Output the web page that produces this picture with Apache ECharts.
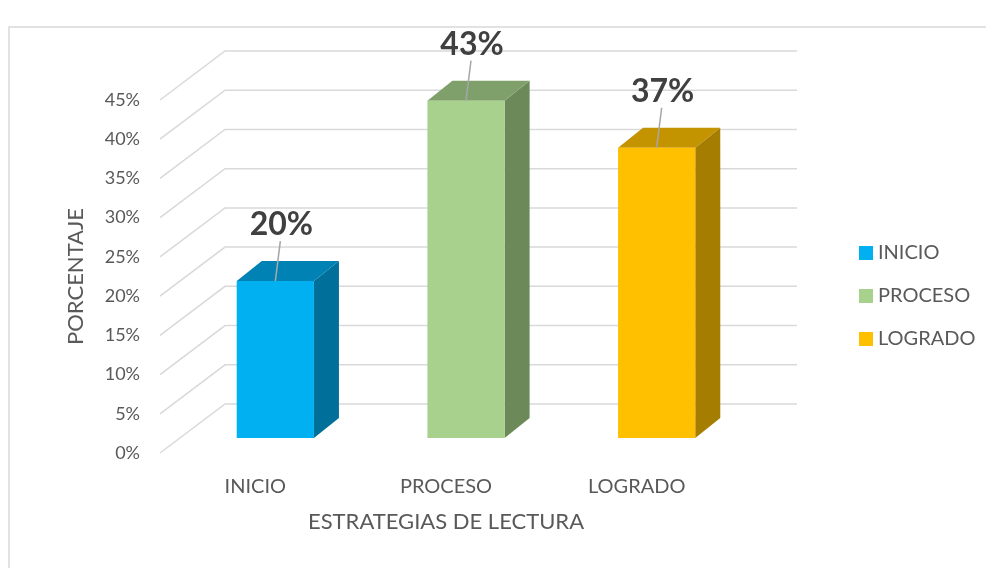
<!DOCTYPE html>
<html>
<head>
<meta charset="utf-8">
<script src="https://cdn.jsdelivr.net/npm/echarts@6/dist/echarts.min.js"></script>
<style>
  html, body { margin: 0; padding: 0; background: #fff; }
  #chart { width: 986px; height: 568px; }
</style>
</head>
<body>
<div id="chart"></div>
<script>
// datos
var categories = ['INICIO', 'PROCESO', 'LOGRADO'];
var values = [20, 43, 37];
var yTicks = [0, 5, 10, 15, 20, 25, 30, 35, 40, 45];
var colors = ['#00B0F0', '#A9D18E', '#FFC000'];
var topColors = ['#0083B4', '#7FA06A', '#C49300'];
var sideColors = ['#006F99', '#6C8A59', '#A57D00'];

var FONT = 'Lato';
// profundidad de la pared del fondo y de las barras
var WALL_DX = 65, WALL_DY = -49;
var BAR_OX = 20, BAR_OY = -15;
var BAR_DX = 25, BAR_DY = -20;

var myChart = echarts.init(document.getElementById('chart'));

function renderGridLine(params, api) {
  var cs = params.coordSys;
  var y = api.coord([0, api.value(1)])[1];
  var x0 = cs.x, x1 = cs.x + cs.width;
  return {
    type: 'polyline',
    silent: true,
    shape: { points: [[x0, y], [x0 + WALL_DX, y + WALL_DY], [x1 + WALL_DX, y + WALL_DY]] },
    style: { stroke: '#d9d9d9', lineWidth: 1.5, fill: null }
  };
}

function makeBarRender(idx) {
  return function (params, api) {
    var cat = api.value(0), v = api.value(1);
    var base = api.coord([cat, 0]);
    var top = api.coord([cat, v]);
    var band = api.size([1, 0])[0];
    var w = band * 0.405;
    var xL = base[0] - w / 2 + BAR_OX, xR = xL + w;
    var yB = base[1] + BAR_OY, yT = top[1] + BAR_OY;
    var xc = (xL + xR) / 2;
    return {
      type: 'group',
      children: [
        {
          type: 'polygon',
          shape: { points: [[xR, yT], [xR + BAR_DX, yT + BAR_DY], [xR + BAR_DX, yB + BAR_DY], [xR, yB]] },
          style: { fill: sideColors[idx] }
        },
        {
          type: 'polygon',
          shape: { points: [[xL, yT], [xR, yT], [xR + BAR_DX, yT + BAR_DY], [xL + BAR_DX, yT + BAR_DY]] },
          style: { fill: topColors[idx] }
        },
        {
          type: 'rect',
          shape: { x: xL, y: yT, width: w, height: yB - yT },
          style: { fill: colors[idx] }
        },
        {
          type: 'line',
          shape: { x1: xc, y1: yT, x2: xc + 5, y2: yT - 40 },
          style: { stroke: '#a6a6a6', lineWidth: 1.5 }
        },
        {
          type: 'text',
          style: {
            x: xc + 6, y: yT - 40,
            text: v + '%',
            fill: '#404040',
            font: 'bold 32px ' + FONT,
            textAlign: 'center',
            textVerticalAlign: 'bottom'
          }
        }
      ]
    };
  };
}

var series = [{
  name: 'grid3d',
  type: 'custom',
  silent: true,
  renderItem: renderGridLine,
  data: yTicks.map(function (t) { return [0, t]; }),
  z: 1
}];
categories.forEach(function (c, i) {
  series.push({
    name: c,
    type: 'custom',
    renderItem: makeBarRender(i),
    itemStyle: { color: colors[i] },
    data: [[i, values[i]]],
    z: 2
  });
});

var option = {
  backgroundColor: '#fff',
  animation: false,
  graphic: [{
    type: 'rect',
    shape: { x: 9, y: 27, width: 1000, height: 600 },
    style: { fill: null, stroke: '#d9d9d9', lineWidth: 1.5 },
    z: 0
  }],
  grid: {
    left: 160,
    right: 254,
    top: 100,
    bottom: 115
  },
  legend: {
    orient: 'vertical',
    left: 854,
    top: 238,
    itemWidth: 14,
    itemHeight: 14,
    itemGap: 23,
    icon: 'rect',
    data: categories,
    textStyle: { color: '#595959', fontSize: 20, fontFamily: FONT }
  },
  xAxis: {
    type: 'category',
    data: categories,
    name: 'ESTRATEGIAS DE LECTURA',
    nameLocation: 'middle',
    nameGap: 58,
    nameTextStyle: { color: '#595959', fontSize: 22, fontFamily: FONT },
    axisLine: { show: false },
    axisTick: { show: false },
    axisLabel: { color: '#595959', fontSize: 20, fontFamily: FONT, margin: 24 }
  },
  yAxis: {
    type: 'value',
    min: 0,
    max: 45,
    interval: 5,
    name: 'PORCENTAJE',
    nameLocation: 'middle',
    nameGap: 73,
    nameTextStyle: { color: '#595959', fontSize: 22, fontFamily: FONT },
    axisLine: { show: false },
    axisTick: { show: false },
    splitLine: { show: false },
    axisLabel: { color: '#595959', fontSize: 18, fontFamily: FONT, margin: 20, formatter: '{value}%' }
  },
  series: series
};

myChart.setOption(option);
</script>
</body>
</html>
